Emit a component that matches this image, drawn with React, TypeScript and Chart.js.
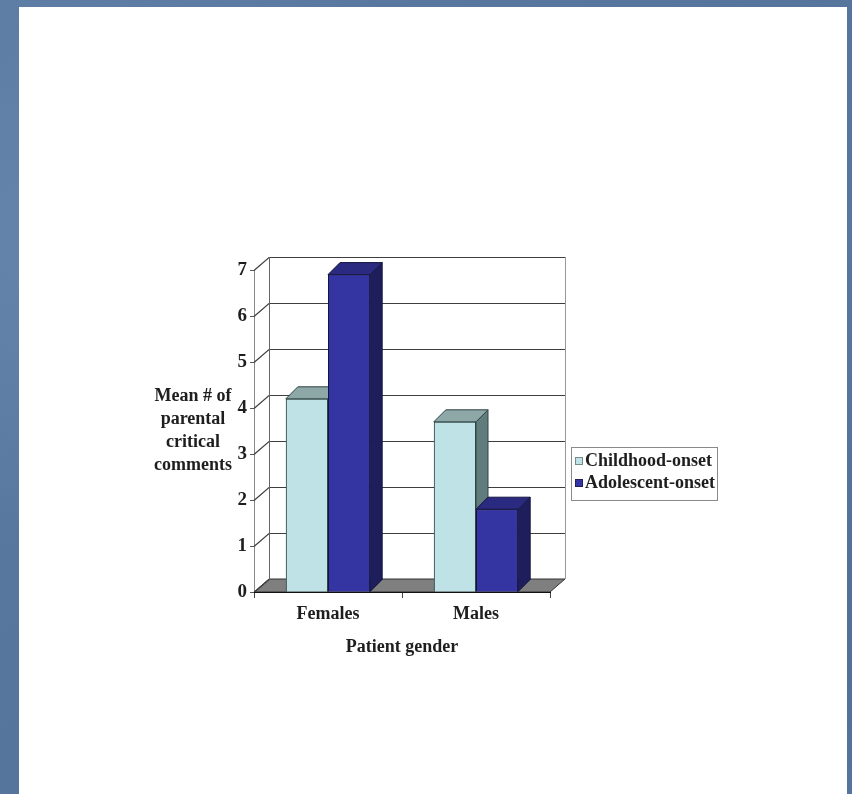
import React, { useEffect, useRef } from 'react';
import { Chart, registerables } from 'chart.js';

Chart.register(...registerables);

const categories = ['Females', 'Males'];
const childhoodOnset = [4.2, 3.7];
const adolescentOnset = [6.9, 1.8];
const seriesLabels = ['Childhood-onset', 'Adolescent-onset'];
const yTicks = [0, 1, 2, 3, 4, 5, 6, 7];
const yTitleLines = ['Mean # of', 'parental', 'critical', 'comments'];
const xTitle = 'Patient gender';

const FONT = "'Liberation Serif', 'Times New Roman', Times, serif";
const FRONT = ['#bfe2e6', '#3434a2'];
const TOP = ['#8ea8a7', '#2a2a80'];
const SIDE = ['#607c7c', '#1e1e5c'];
const EDGE = ['#2f4444', '#141440'];
const TEXT = '#1e1e1e';

const WALL_DX = 15;
const WALL_DY = -13;
const BAR_DX = 12;
const BAR_DY = -12;

function poly(ctx: CanvasRenderingContext2D, pts: number[][], fill: string, stroke: string) {
  ctx.beginPath();
  ctx.moveTo(pts[0][0], pts[0][1]);
  for (let i = 1; i < pts.length; i++) ctx.lineTo(pts[i][0], pts[i][1]);
  ctx.closePath();
  ctx.fillStyle = fill;
  ctx.fill();
  ctx.strokeStyle = stroke;
  ctx.lineWidth = 1;
  ctx.stroke();
}

const threeD = {
  id: 'threeD',
  beforeDatasetsDraw(chart: any) {
    const { ctx, chartArea: a, scales } = chart;
    const y = scales.y;
    ctx.save();
    // floor
    poly(
      ctx,
      [
        [a.left, a.bottom],
        [a.right, a.bottom],
        [a.right + WALL_DX, a.bottom + WALL_DY],
        [a.left + WALL_DX, a.bottom + WALL_DY],
      ],
      '#7f7f7f',
      '#333'
    );
    ctx.lineWidth = 1.2;
    // back wall grid + side slants
    for (const v of yTicks) {
      const py = Math.round(y.getPixelForValue(v)) + 0.5;
      ctx.strokeStyle = '#3e3e3e';
      ctx.beginPath();
      ctx.moveTo(a.left, py);
      ctx.lineTo(a.left + WALL_DX, py + WALL_DY);
      if (v > 0) ctx.lineTo(a.right + WALL_DX, py + WALL_DY);
      ctx.stroke();
    }
    ctx.lineWidth = 1;
    const topBack = Math.round(y.getPixelForValue(yTicks[yTicks.length - 1])) + WALL_DY;
    const botBack = Math.round(a.bottom) + WALL_DY;
    ctx.strokeStyle = '#666';
    ctx.beginPath();
    ctx.moveTo(a.left + WALL_DX + 0.5, topBack);
    ctx.lineTo(a.left + WALL_DX + 0.5, botBack);
    ctx.stroke();
    ctx.strokeStyle = '#999';
    ctx.beginPath();
    ctx.moveTo(a.right + WALL_DX + 0.5, topBack);
    ctx.lineTo(a.right + WALL_DX + 0.5, botBack);
    ctx.stroke();
    // front axis line
    ctx.strokeStyle = '#111';
    ctx.beginPath();
    ctx.moveTo(a.left, Math.round(a.bottom) + 0.5);
    ctx.lineTo(a.right, Math.round(a.bottom) + 0.5);
    ctx.stroke();
    ctx.restore();
  },
  afterDatasetsDraw(chart: any) {
    const { ctx } = chart;
    const items: { el: any; di: number }[] = [];
    chart.data.datasets.forEach((_: any, di: number) => {
      chart.getDatasetMeta(di).data.forEach((el: any) => items.push({ el, di }));
    });
    items.sort((p, q) => p.el.x - q.el.x);
    ctx.save();
    for (const { el, di } of items) {
      const { x, y, base, width } = el.getProps(['x', 'y', 'base', 'width'], true);
      const xl = x - width / 2;
      const xr = x + width / 2;
      poly(
        ctx,
        [
          [xr, y],
          [xr + BAR_DX, y + BAR_DY],
          [xr + BAR_DX, base + BAR_DY],
          [xr, base],
        ],
        SIDE[di],
        EDGE[di]
      );
      poly(
        ctx,
        [
          [xl, y],
          [xr, y],
          [xr + BAR_DX, y + BAR_DY],
          [xl + BAR_DX, y + BAR_DY],
        ],
        TOP[di],
        EDGE[di]
      );
      el.draw(ctx);
    }
    ctx.restore();
  },
  afterDraw(chart: any) {
    const { ctx } = chart;
    ctx.save();
    ctx.font = `bold 18px ${FONT}`;
    ctx.fillStyle = TEXT;
    ctx.textAlign = 'center';
    ctx.textBaseline = 'middle';
    yTitleLines.forEach((t, i) => ctx.fillText(t, 193, 396 + i * 23));

    // legend
    const lx = 571;
    const ly = 447;
    const lw = 146;
    const lh = 53;
    ctx.fillStyle = '#fff';
    ctx.fillRect(lx, ly, lw, lh);
    ctx.strokeStyle = '#8a8a8a';
    ctx.lineWidth = 1;
    ctx.strokeRect(lx + 0.5, ly + 0.5, lw, lh);
    ctx.textAlign = 'left';
    chart.data.datasets.forEach((ds: any, i: number) => {
      const cy = 461 + i * 22;
      ctx.fillStyle = ds.backgroundColor;
      ctx.fillRect(575, cy - 4, 8, 8);
      ctx.strokeStyle = i === 0 ? '#7a8a8a' : '#202060';
      ctx.strokeRect(575.5, cy - 3.5, 7, 7);
      ctx.fillStyle = TEXT;
      ctx.fillText(ds.label, 585, cy);
    });
    ctx.restore();
  },
};

export default function App() {
  const ref = useRef<HTMLCanvasElement>(null);
  useEffect(() => {
    const font = { family: FONT, size: 18, weight: 'bold' as const };
    const chart = new Chart(ref.current as HTMLCanvasElement, {
      type: 'bar',
      data: {
        labels: categories,
        datasets: [
          {
            label: seriesLabels[0],
            data: childhoodOnset,
            backgroundColor: FRONT[0],
            borderColor: EDGE[0],
            borderWidth: 1,
          },
          {
            label: seriesLabels[1],
            data: adolescentOnset,
            backgroundColor: FRONT[1],
            borderColor: EDGE[1],
            borderWidth: 1,
          },
        ],
      },
      options: {
        responsive: false,
        animation: false,
        events: [],
        layout: { padding: { left: 214, right: 302, top: 270, bottom: 122 } },
        plugins: { legend: { display: false }, tooltip: { enabled: false } },
        datasets: { bar: { categoryPercentage: 0.57, barPercentage: 1 } },
        scales: {
          x: {
            grid: { display: true, drawOnChartArea: false, drawTicks: true, tickLength: 6, color: '#444' },
            border: { display: true, color: '#111' },
            ticks: { padding: 6, color: TEXT, font },
            title: { display: true, text: xTitle, color: TEXT, font, padding: { top: 4, bottom: 14 } },
            afterFit: (s: any) => {
              s.height = 80;
            },
          },
          y: {
            min: 0,
            max: 7,
            grid: { display: true, drawOnChartArea: false, drawTicks: true, tickLength: 4, color: '#555' },
            border: { display: true, color: '#888' },
            ticks: { padding: 3, color: TEXT, font: { family: FONT, size: 19, weight: 'bold' as const }, stepSize: 1 },
            afterBuildTicks: (s: any) => {
              s.ticks = yTicks.map((v) => ({ value: v }));
            },
            afterFit: (s: any) => {
              s.width = 40;
            },
          },
        },
      },
      plugins: [threeD],
    });
    return () => chart.destroy();
  }, []);

  return (
    <div
      style={{
        position: 'fixed',
        left: 0,
        top: 0,
        width: 852,
        height: 794,
        overflow: 'hidden',
        background:
          'radial-gradient(ellipse at 10% 30%, #6585ad 0%, rgba(90,122,160,0) 40%), radial-gradient(ellipse at 90% 80%, #4f6f96 0%, rgba(90,122,160,0) 45%), linear-gradient(135deg, #5b7ba3, #56759c 50%, #5d7da5)',
      }}
    >
      <div style={{ position: 'absolute', left: 19, top: 7, width: 828, height: 787, background: '#fff' }} />
      <canvas
        ref={ref}
        width={852}
        height={794}
        style={{ position: 'absolute', left: 0, top: 0, width: 852, height: 794 }}
      />
    </div>
  );
}
